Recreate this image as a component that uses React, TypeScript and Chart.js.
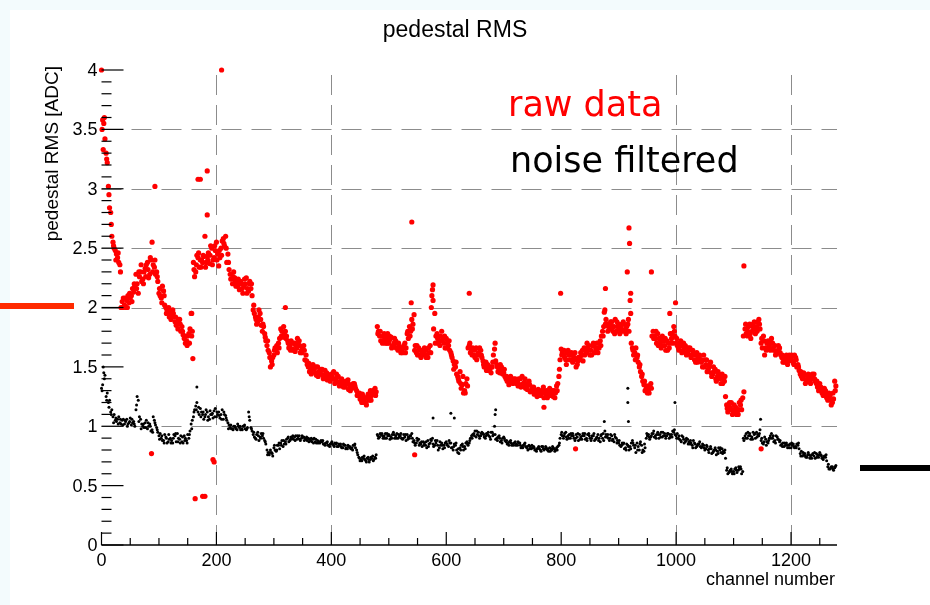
import React, { useEffect, useRef } from "react";
import { Chart, registerables } from "chart.js";

Chart.register(...registerables);

// ---------- data ----------
// Three interleaved samplings of the channel axis:
// set A at channels 0,4,8,..., set B at 2,6,10,..., set C at 1,5,9,...
const CHANNEL_STEP = 4;
const OFFSET_A = 0;
const OFFSET_B = 2;
const OFFSET_C = 1;

const rawRmsA = [
  4.0, 3.55, 3.3, 3.02, 2.8, 2.55, 2.48, 2.42, 2.36, 2.05,
  2.02, 2.06, 2.04, 2.1, 2.13, 2.28, 2.12, 2.3, 2.24, 2.33,
  2.38, 2.28, 2.55, 2.34, 2.3, 2.12, 2.08, 2.14, 2.0, 1.96,
  1.94, 1.98, 1.88, 1.86, 1.9, 1.84, 1.74, 1.72, 1.78, 1.95,
  2.38, 2.3, 2.42, 2.4, 2.38, 2.6, 2.43, 2.37, 2.5, 2.42,
  2.55, 2.35, 2.5, 2.58, 2.6, 2.45, 2.28, 2.2, 2.25, 2.22,
  2.15, 2.2, 2.18, 2.25, 2.14, 2.16, 1.98, 1.92, 1.88, 1.95,
  1.8, 1.78, 1.68, 1.62, 1.55, 1.6, 1.65, 1.7, 1.82, 1.75,
  1.8, 1.72, 1.68, 1.65, 1.7, 1.66, 1.72, 1.64, 1.68, 1.6,
  1.5, 1.47, 1.52, 1.45, 1.5, 1.44, 1.48, 1.42, 1.45, 1.4,
  1.44, 1.46, 1.38, 1.42, 1.36, 1.38, 1.33, 1.37, 1.35, 1.32,
  1.36, 1.3, 1.26, 1.22, 1.25, 1.2, 1.27, 1.3, 1.28, 1.32,
  1.84, 1.76, 1.72, 1.78, 1.74, 1.7, 1.75, 1.68, 1.72, 1.64,
  1.66, 1.62, 1.7, 1.78, 1.84, 1.9, 1.94, 1.62, 1.66, 1.58,
  1.6, 1.64, 1.58, 1.68, 2.15, 1.95, 1.78, 1.72, 1.8, 1.7,
  1.74, 1.68, 1.62, 1.55, 1.5, 1.42, 1.46, 1.35, 1.3, 1.4,
  1.68, 1.64, 1.6, 1.66, 1.62, 1.64, 1.55, 1.5, 1.52, 1.48,
  1.5, 1.65, 1.52, 1.48, 1.5, 1.45, 1.4, 1.38, 1.42, 1.36,
  1.4, 1.38, 1.35, 1.42, 1.37, 1.34, 1.38, 1.3, 1.33, 1.28,
  1.31, 1.26, 1.3, 1.28, 1.24, 1.32, 1.27, 1.3, 1.34, 1.42,
  1.65, 1.6, 1.56, 1.64, 1.6, 1.54, 1.62, 1.52, 1.56, 1.6,
  1.66, 1.62, 1.68, 1.64, 1.7, 1.66, 1.62, 1.72, 1.8, 1.98,
  1.86, 1.82, 1.88, 1.84, 1.8, 1.86, 1.83, 1.88, 1.82, 1.86,
  2.06, 1.66, 1.62, 1.58, 1.5, 1.42, 1.35, 1.32, 1.3, 1.36,
  1.8, 1.74, 1.78, 1.7, 1.76, 1.68, 1.72, 1.66, 1.74, 1.84,
  1.7, 1.66, 1.72, 1.64, 1.68, 1.62, 1.66, 1.6, 1.56, 1.62,
  1.58, 1.54, 1.6, 1.52, 1.48, 1.54, 1.44, 1.48, 1.42, 1.4,
  1.44, 1.38, 1.18, 1.14, 1.2, 1.12, 1.16, 1.1, 1.18, 1.24,
  1.82, 1.76, 1.86, 1.8, 1.88, 1.84, 1.9, 1.7, 1.76, 1.66,
  1.72, 1.64, 1.7, 1.68, 1.62, 1.66, 1.58, 1.56, 1.6, 1.55,
  1.57, 1.54, 1.58, 1.52, 1.44, 1.4, 1.43, 1.38, 1.42, 1.4,
  1.44, 1.36, 1.3, 1.33, 1.26, 1.3, 1.22, 1.26, 1.2, 1.38,
];

const rawRmsB = [
  3.58, 3.42, 3.22, 2.84, 2.6, 2.5, 2.45, 2.38, 2.0, 2.08,
  2.0, 2.1, 2.08, 2.16, 2.18, 2.2, 2.26, 2.22, 2.3, 2.36,
  2.25, 2.4, 2.36, 2.28, 2.22, 2.1, 2.18, 2.02, 1.98, 1.92,
  1.97, 1.92, 1.85, 1.9, 1.8, 1.77, 1.7, 1.76, 1.82, 1.8,
  2.26, 2.44, 2.34, 2.4, 2.43, 2.38, 2.46, 2.52, 2.4, 2.48,
  2.45, 2.42, 2.56, 2.52, 2.38, 2.32, 2.24, 2.3, 2.18, 2.24,
  2.22, 2.12, 2.2, 2.16, 2.22, 2.1, 1.95, 1.86, 1.98, 1.85,
  1.84, 1.72, 1.64, 1.5, 1.58, 1.66, 1.62, 1.74, 1.8, 1.78,
  1.76, 1.66, 1.72, 1.64, 1.68, 1.7, 1.62, 1.66, 1.56, 1.52,
  1.46, 1.5, 1.48, 1.43, 1.46, 1.48, 1.4, 1.44, 1.42, 1.38,
  1.4, 1.36, 1.41, 1.34, 1.4, 1.35, 1.38, 1.31, 1.34, 1.36,
  1.32, 1.28, 1.23, 1.27, 1.2, 1.24, 1.22, 1.26, 1.3, 1.29,
  1.8, 1.72, 1.76, 1.7, 1.78, 1.73, 1.67, 1.74, 1.7, 1.67,
  1.64, 1.68, 1.66, 1.74, 1.8, 1.86, 1.68, 1.6, 1.64, 1.62,
  1.66, 1.6, 1.62, 2.0, 1.82, 1.76, 1.7, 1.76, 1.74, 1.66,
  1.7, 1.64, 1.58, 1.52, 1.44, 1.38, 1.32, 1.28, 1.36, 1.66,
  1.62, 1.66, 1.58, 1.6, 1.66, 1.58, 1.5, 1.47, 1.5, 1.45,
  1.6, 1.55, 1.46, 1.52, 1.44, 1.42, 1.38, 1.4, 1.37, 1.39,
  1.36, 1.4, 1.33, 1.36, 1.32, 1.36, 1.29, 1.32, 1.3, 1.25,
  1.28, 1.3, 1.24, 1.3, 1.26, 1.29, 1.25, 1.28, 1.36, 1.56,
  1.62, 1.58, 1.62, 1.56, 1.62, 1.58, 1.5, 1.58, 1.62, 1.55,
  1.64, 1.66, 1.6, 1.68, 1.62, 1.7, 1.66, 1.76, 1.84, 1.9,
  1.84, 1.88, 1.8, 1.9, 1.84, 1.78, 1.86, 1.8, 1.84, 1.8,
  1.7, 1.6, 1.66, 1.54, 1.46, 1.38, 1.3, 1.28, 1.34, 1.76,
  1.76, 1.7, 1.74, 1.66, 1.72, 1.64, 1.7, 1.78, 1.7, 1.76,
  1.68, 1.7, 1.62, 1.66, 1.6, 1.64, 1.58, 1.62, 1.54, 1.58,
  1.56, 1.5, 1.56, 1.46, 1.52, 1.42, 1.46, 1.38, 1.44, 1.36,
  1.4, 1.25, 1.12, 1.16, 1.1, 1.14, 1.12, 1.2, 1.14, 1.29,
  1.78, 1.84, 1.74, 1.86, 1.78, 1.88, 1.82, 1.66, 1.6, 1.7,
  1.68, 1.74, 1.64, 1.62, 1.68, 1.6, 1.54, 1.58, 1.52, 1.58,
  1.55, 1.6, 1.5, 1.47, 1.42, 1.45, 1.39, 1.44, 1.36, 1.42,
  1.38, 1.33, 1.36, 1.28, 1.32, 1.24, 1.28, 1.18, 1.23, 1.34,
];

const rawRmsC = [
  3.5, 3.6, 3.25, 2.95, 2.7, 2.52, 2.4, 2.46, 2.3, 2.0,
  2.08, 2.0, 2.12, 2.05, 2.2, 2.16, 2.3, 2.36, 2.2, 2.26,
  2.32, 2.42, 2.3, 2.4, 2.26, 2.16, 2.04, 2.1, 1.95, 2.0,
  1.9, 1.95, 1.92, 1.82, 1.86, 1.8, 1.76, 1.68, 1.7, 1.76,
  2.32, 2.36, 2.46, 2.34, 2.44, 2.34, 2.4, 2.44, 2.36, 2.52,
  2.4, 2.48, 2.44, 2.54, 2.5, 2.38, 2.24, 2.26, 2.22, 2.18,
  2.2, 2.16, 2.24, 2.12, 2.2, 2.2, 2.02, 1.9, 1.92, 1.9,
  1.86, 1.75, 1.72, 1.58, 1.52, 1.64, 1.68, 1.66, 1.76, 1.84,
  1.74, 1.7, 1.64, 1.7, 1.63, 1.74, 1.68, 1.62, 1.64, 1.55,
  1.53, 1.44, 1.49, 1.5, 1.42, 1.46, 1.43, 1.47, 1.39, 1.43,
  1.42, 1.4, 1.44, 1.37, 1.38, 1.33, 1.35, 1.39, 1.3, 1.34,
  1.34, 1.26, 1.28, 1.2, 1.23, 1.18, 1.25, 1.22, 1.3, 1.26,
  1.78, 1.8, 1.7, 1.74, 1.7, 1.76, 1.66, 1.7, 1.66, 1.7,
  1.62, 1.66, 1.62, 1.8, 1.76, 1.82, 1.64, 1.68, 1.6, 1.64,
  1.62, 1.58, 1.66, 1.62, 2.06, 1.7, 1.74, 1.68, 1.72, 1.76,
  1.66, 1.72, 1.6, 1.48, 1.54, 1.4, 1.36, 1.42, 1.28, 1.34,
  1.7, 1.6, 1.64, 1.56, 1.6, 1.6, 1.52, 1.54, 1.47, 1.5,
  1.54, 1.7, 1.5, 1.45, 1.46, 1.48, 1.42, 1.35, 1.39, 1.4,
  1.38, 1.34, 1.4, 1.34, 1.4, 1.31, 1.35, 1.33, 1.27, 1.3,
  1.26, 1.28, 1.33, 1.25, 1.29, 1.26, 1.3, 1.24, 1.3, 1.48,
  1.6, 1.64, 1.52, 1.6, 1.56, 1.6, 1.56, 1.55, 1.58, 1.64,
  1.6, 1.7, 1.64, 1.6, 1.68, 1.64, 1.7, 1.68, 1.76, 1.86,
  1.8, 1.86, 1.84, 1.78, 1.88, 1.82, 1.8, 1.86, 1.78, 1.9,
  1.95, 1.64, 1.56, 1.6, 1.52, 1.44, 1.38, 1.34, 1.28, 1.32,
  1.74, 1.8, 1.68, 1.74, 1.68, 1.74, 1.64, 1.7, 1.78, 1.8,
  1.74, 1.64, 1.68, 1.7, 1.62, 1.66, 1.6, 1.64, 1.6, 1.54,
  1.6, 1.56, 1.5, 1.56, 1.5, 1.45, 1.5, 1.4, 1.46, 1.42,
  1.36, 1.42, 1.15, 1.2, 1.14, 1.18, 1.1, 1.14, 1.22, 1.76,
  1.86, 1.8, 1.78, 1.84, 1.82, 1.8, 1.86, 1.74, 1.72, 1.64,
  1.66, 1.7, 1.66, 1.6, 1.64, 1.62, 1.6, 1.54, 1.56, 1.6,
  1.6, 1.52, 1.56, 1.5, 1.46, 1.42, 1.36, 1.4, 1.38, 1.44,
  1.4, 1.38, 1.32, 1.3, 1.28, 1.27, 1.24, 1.22, 1.28, 1.3,
];

const filteredRmsA = [
  1.32, 1.45, 1.25, 1.2, 1.12, 1.08, 1.05, 1.06, 1.03, 1.05,
  1.02, 1.06, 1.03, 1.01, 1.04, 1.14, 1.22, 1.06, 1.0, 1.03,
  0.98, 1.02, 0.97, 1.05, 0.99, 0.92, 0.9, 0.88, 0.91, 0.87,
  0.9, 0.86, 0.92, 0.94, 0.89, 0.87, 0.92, 0.88, 0.9, 1.02,
  1.08, 1.17, 1.12, 1.15, 1.1, 1.08, 1.12, 1.06, 1.1, 1.13,
  1.08, 1.12, 1.1, 1.06, 1.09, 1.03, 0.99, 0.98, 1.0, 0.97,
  0.99, 0.98, 1.0, 0.97, 1.12, 0.99, 0.93, 0.9, 0.95, 0.91,
  0.92, 0.88, 0.8, 0.76, 0.78, 0.82, 0.79, 0.84, 0.86, 0.83,
  0.87, 0.9, 0.88, 0.9, 0.91, 0.89, 0.92, 0.9, 0.91, 0.89,
  0.9, 0.88, 0.89, 0.87, 0.88, 0.86, 0.87, 0.85, 0.86, 0.84,
  0.86, 0.84, 0.85, 0.83, 0.85, 0.82, 0.84, 0.81, 0.83, 0.82,
  0.84, 0.8, 0.74, 0.72, 0.73, 0.71, 0.74, 0.72, 0.75, 0.74,
  0.93, 0.91, 0.94, 0.92, 0.9, 0.93, 0.91, 0.95, 0.92, 0.9,
  0.92, 0.89, 0.91, 0.93, 0.9, 0.94, 0.88, 0.86, 0.89, 0.85,
  0.87, 0.84, 0.88, 0.86, 0.9, 0.84, 0.88, 0.82, 0.86, 0.84,
  0.87, 0.83, 0.86, 0.8, 0.84, 0.78, 0.82, 0.85, 0.83, 0.87,
  0.86, 0.92, 0.94, 0.91, 0.95, 0.92, 0.94, 0.9, 0.93, 0.91,
  0.95, 1.0, 0.9, 0.92, 0.88, 0.91, 0.87, 0.86, 0.88, 0.85,
  0.87, 0.84, 0.86, 0.83, 0.85, 0.82, 0.84, 0.81, 0.83, 0.8,
  0.82, 0.8, 0.83, 0.81, 0.8, 0.82, 0.8, 0.81, 0.82, 0.84,
  0.93, 0.9, 0.95, 0.92, 0.9, 0.94, 0.88, 0.91, 0.93, 0.89,
  0.92, 0.9, 0.94, 0.88, 0.92, 0.89, 0.93, 0.87, 0.9, 0.96,
  0.91, 0.88, 0.92, 0.87, 0.9, 0.86, 0.83, 0.85, 0.82, 0.84,
  0.83, 0.88, 0.82, 0.86, 0.8, 0.84, 0.79, 0.9, 0.93, 0.91,
  0.94, 0.92, 0.95, 0.93, 0.91, 0.94, 0.92, 0.9, 0.93, 0.95,
  0.92, 0.9, 0.88, 0.91, 0.87, 0.89, 0.85, 0.84, 0.86, 0.83,
  0.85, 0.82, 0.84, 0.81, 0.8, 0.83, 0.78, 0.82, 0.79, 0.8,
  0.81, 0.78, 0.63, 0.61, 0.64, 0.62, 0.65, 0.63, 0.66, 0.62,
  0.92, 0.9, 0.94, 0.91, 0.93, 0.95, 0.92, 0.88, 0.85, 0.89,
  0.86, 0.92, 0.9, 0.88, 0.91, 0.87, 0.85, 0.83, 0.86, 0.84,
  0.82, 0.85, 0.83, 0.84, 0.77, 0.75, 0.77, 0.74, 0.76, 0.73,
  0.75, 0.77, 0.74, 0.76, 0.72, 0.74, 0.66, 0.64, 0.66, 0.65,
];

const filteredRmsB = [
  1.35, 1.43, 1.28, 1.22, 1.14, 1.1, 1.04, 1.08, 1.02, 1.06,
  1.04, 1.02, 1.07, 1.03, 1.0, 1.25, 1.08, 1.02, 0.99, 1.05,
  1.0, 0.96, 1.08, 1.01, 0.95, 0.94, 0.88, 0.93, 0.86, 0.89,
  0.88, 0.93, 0.87, 0.9, 0.92, 0.86, 0.9, 0.93, 0.96, 1.05,
  1.14, 1.2, 1.1, 1.12, 1.06, 1.14, 1.08, 1.1, 1.07, 1.15,
  1.1, 1.07, 1.14, 1.1, 1.05, 1.01, 0.98, 1.0, 0.98, 1.0,
  0.97, 1.0, 0.98, 0.99, 1.05, 0.96, 0.91, 0.93, 0.88, 0.94,
  0.9, 0.85, 0.78, 0.8, 0.75, 0.8, 0.84, 0.81, 0.88, 0.85,
  0.89, 0.87, 0.91, 0.89, 0.92, 0.9, 0.88, 0.91, 0.9, 0.88,
  0.89, 0.87, 0.9, 0.86, 0.87, 0.88, 0.85, 0.86, 0.84, 0.85,
  0.85, 0.86, 0.83, 0.84, 0.82, 0.84, 0.82, 0.83, 0.81, 0.84,
  0.82, 0.76, 0.71, 0.74, 0.72, 0.73, 0.7, 0.73, 0.72, 0.76,
  0.9, 0.93, 0.9, 0.94, 0.92, 0.89, 0.93, 0.9, 0.94, 0.91,
  0.9, 0.93, 0.88, 0.91, 0.92, 0.87, 0.84, 0.88, 0.86, 0.83,
  0.86, 0.82, 0.85, 0.88, 0.83, 0.86, 0.8, 0.84, 0.81, 0.86,
  0.84, 0.86, 0.82, 0.85, 0.8, 0.77, 0.84, 0.8, 0.86, 0.84,
  0.9, 0.93, 0.96, 0.93, 0.9, 0.95, 0.91, 0.94, 0.92, 0.95,
  0.93, 0.89, 0.91, 0.87, 0.9, 0.88, 0.85, 0.87, 0.84, 0.86,
  0.85, 0.86, 0.82, 0.84, 0.83, 0.8, 0.83, 0.82, 0.8, 0.81,
  0.81, 0.83, 0.8, 0.82, 0.79, 0.81, 0.82, 0.8, 0.83, 0.9,
  0.92, 0.94, 0.89, 0.93, 0.92, 0.9, 0.93, 0.88, 0.91, 0.94,
  0.89, 0.93, 0.9, 0.92, 0.88, 0.91, 0.9, 0.93, 0.88, 0.93,
  0.9, 0.93, 0.89, 0.91, 0.88, 0.84, 0.86, 0.81, 0.85, 0.8,
  0.86, 0.84, 0.78, 0.83, 0.87, 0.8, 0.82, 0.92, 0.89, 0.94,
  0.91, 0.93, 0.9, 0.95, 0.92, 0.9, 0.94, 0.91, 0.96, 0.93,
  0.94, 0.89, 0.92, 0.86, 0.9, 0.87, 0.86, 0.88, 0.82, 0.85,
  0.83, 0.85, 0.8, 0.83, 0.81, 0.77, 0.8, 0.76, 0.82, 0.78,
  0.79, 0.73, 0.6, 0.63, 0.6, 0.64, 0.61, 0.64, 0.6, 0.88,
  0.94, 0.92, 0.89, 0.95, 0.9, 0.93, 0.97, 0.86, 0.91, 0.87,
  0.9, 0.94, 0.87, 0.92, 0.89, 0.84, 0.86, 0.84, 0.82, 0.85,
  0.84, 0.82, 0.85, 0.81, 0.79, 0.76, 0.74, 0.78, 0.75, 0.77,
  0.73, 0.76, 0.78, 0.73, 0.75, 0.71, 0.64, 0.66, 0.63, 0.67,
];

const filteredRmsC = [
  1.3, 1.4, 1.22, 1.16, 1.1, 1.03, 1.07, 1.02, 1.06, 1.01,
  1.05, 1.0, 1.04, 1.06, 1.02, 1.18, 1.04, 0.98, 1.02, 0.99,
  1.03, 1.0, 0.95, 1.03, 0.97, 0.89, 0.92, 0.86, 0.9, 0.93,
  0.86, 0.9, 0.94, 0.87, 0.86, 0.91, 0.88, 0.86, 0.93, 0.98,
  1.12, 1.14, 1.16, 1.08, 1.12, 1.1, 1.05, 1.13, 1.11, 1.08,
  1.12, 1.09, 1.06, 1.12, 1.07, 0.98, 1.01, 0.97, 0.99, 1.02,
  1.0, 0.97, 1.01, 0.98, 1.08, 0.98, 0.95, 0.89, 0.92, 0.9,
  0.94, 0.87, 0.76, 0.78, 0.77, 0.84, 0.8, 0.86, 0.84, 0.88,
  0.85, 0.91, 0.89, 0.92, 0.88, 0.92, 0.89, 0.92, 0.88, 0.91,
  0.87, 0.9, 0.86, 0.89, 0.86, 0.87, 0.88, 0.84, 0.87, 0.83,
  0.87, 0.83, 0.86, 0.85, 0.83, 0.85, 0.81, 0.84, 0.82, 0.8,
  0.85, 0.78, 0.73, 0.71, 0.75, 0.7, 0.72, 0.74, 0.71, 0.73,
  0.92, 0.94, 0.92, 0.9, 0.94, 0.92, 0.9, 0.93, 0.9, 0.93,
  0.94, 0.9, 0.93, 0.89, 0.92, 0.9, 0.86, 0.9, 0.84, 0.87,
  0.84, 0.87, 0.83, 0.89, 0.85, 0.88, 0.84, 0.87, 0.84, 0.82,
  0.85, 0.88, 0.82, 0.83, 0.86, 0.81, 0.8, 0.83, 0.81, 0.85,
  0.88, 0.9, 0.92, 0.96, 0.92, 0.94, 0.93, 0.92, 0.95, 0.89,
  0.92, 0.93, 0.88, 0.9, 0.86, 0.9, 0.88, 0.84, 0.86, 0.84,
  0.84, 0.87, 0.84, 0.82, 0.86, 0.83, 0.81, 0.84, 0.82, 0.79,
  0.83, 0.79, 0.81, 0.83, 0.81, 0.79, 0.83, 0.79, 0.8, 0.86,
  0.95, 0.92, 0.91, 0.9, 0.94, 0.92, 0.9, 0.94, 0.89, 0.92,
  0.94, 0.88, 0.92, 0.9, 0.94, 0.9, 0.88, 0.92, 0.94, 0.91,
  0.93, 0.9, 0.88, 0.93, 0.86, 0.88, 0.84, 0.86, 0.8, 0.83,
  0.81, 0.86, 0.84, 0.8, 0.85, 0.78, 0.85, 0.94, 0.91, 0.92,
  0.96, 0.9, 0.93, 0.91, 0.95, 0.92, 0.94, 0.93, 0.91, 0.97,
  0.9, 0.92, 0.87, 0.89, 0.88, 0.85, 0.88, 0.82, 0.85, 0.84,
  0.87, 0.83, 0.82, 0.84, 0.78, 0.81, 0.79, 0.8, 0.77, 0.82,
  0.77, 0.8, 0.65, 0.62, 0.62, 0.6, 0.63, 0.66, 0.64, 0.9,
  0.9, 0.95, 0.92, 0.89, 0.94, 0.91, 0.94, 0.9, 0.87, 0.84,
  0.88, 0.9, 0.92, 0.86, 0.89, 0.88, 0.83, 0.86, 0.84, 0.82,
  0.86, 0.83, 0.82, 0.86, 0.75, 0.78, 0.75, 0.76, 0.73, 0.76,
  0.78, 0.74, 0.76, 0.75, 0.74, 0.76, 0.68, 0.65, 0.64, 0.66,
];

// isolated channels that sit off the main bands
const rawExtraCh = [
  3, 87, 93, 157, 159, 163, 168, 172, 176, 180,
  184, 184, 194, 196, 209, 320, 539, 540, 545, 575, 577, 640, 770, 799, 825,
  875, 877, 915, 918, 919, 921, 957, 989, 999, 1118, 1148,
];
const rawExtraVal = [
  3.33, 0.77, 3.02, 1.95, 1.57, 0.39, 3.08, 3.08, 0.41, 0.41,
  3.15, 2.78, 0.72, 0.7, 4.0, 2.0, 2.04, 2.72, 0.76, 2.1, 2.19, 2.12, 1.16, 2.12, 0.81,
  1.96, 2.16, 2.3, 2.67, 2.54, 2.12, 2.3, 1.95, 2.04, 2.35, 0.81,
];
const filteredExtraCh = [3, 166, 577, 608, 614, 685, 686, 875, 916, 916, 917, 998, 1147];
const filteredExtraVal = [1.5, 1.33, 1.07, 1.11, 1.07, 1.1, 1.14, 1.04, 1.32, 1.2, 1.04, 1.2, 1.06];

const xMajorTicks = [0, 200, 400, 600, 800, 1000, 1200];
const xMinorStep = 50;
const yMajorTicks = [0, 0.5, 1, 1.5, 2, 2.5, 3, 3.5, 4];
const yMinorStep = 0.1;
const xGridShown = [200, 400, 1000, 1200];
const yGridShown = [1, 2, 2.5, 3, 3.5];

const TITLE = "pedestal RMS";
const X_TITLE = "channel number";
const Y_TITLE = "pedestal RMS [ADC]";
const LEGEND_RAW = "raw data";
const LEGEND_FILTERED = "noise filtered";

const ROOT_FONT = '"Liberation Sans", Arial, Helvetica, sans-serif';
const SLIDE_FONT = '"DejaVu Sans", sans-serif';

const decorPlugin = {
  id: "decor",
  beforeDraw(chart: any) {
    const { ctx, width, height } = chart;
    ctx.save();
    ctx.fillStyle = "#f3fbfd";
    ctx.fillRect(0, 0, width, height);
    ctx.fillStyle = "#ffffff";
    ctx.fillRect(10, 10, width - 10, height - 10);
    ctx.restore();
  },
  beforeDatasetsDraw(chart: any) {
    const { ctx, chartArea } = chart;
    const xs = chart.scales.x;
    const ys = chart.scales.y;
    ctx.save();
    ctx.strokeStyle = "#8c8c8c";
    ctx.lineWidth = 1;
    ctx.setLineDash([20, 10]);
    for (const v of yGridShown) {
      const py = Math.round(ys.getPixelForValue(v)) + 0.5;
      ctx.beginPath();
      ctx.moveTo(chartArea.left, py);
      ctx.lineTo(chartArea.right, py);
      ctx.stroke();
    }
    for (const v of xGridShown) {
      const px = Math.round(xs.getPixelForValue(v)) + 0.5;
      ctx.beginPath();
      ctx.moveTo(px, chartArea.bottom);
      ctx.lineTo(px, chartArea.top);
      ctx.stroke();
    }
    ctx.restore();
  },
  afterDatasetsDraw(chart: any) {
    const { ctx, chartArea } = chart;
    const xs = chart.scales.x;
    const ys = chart.scales.y;
    ctx.save();
    // x axis line
    ctx.strokeStyle = "#000000";
    ctx.lineWidth = 1.5;
    ctx.beginPath();
    ctx.moveTo(chartArea.left, chartArea.bottom);
    ctx.lineTo(chartArea.right, chartArea.bottom);
    ctx.stroke();
    // x ticks (inside)
    ctx.lineWidth = 1.2;
    for (let v = 0; v <= 1280; v += xMinorStep) {
      const px = xs.getPixelForValue(v);
      const major = xMajorTicks.includes(v);
      ctx.beginPath();
      ctx.moveTo(px, chartArea.bottom);
      ctx.lineTo(px, chartArea.bottom - (major ? 13 : 7));
      ctx.stroke();
    }
    // y ticks (inside)
    for (let i = 0; i <= 40; i++) {
      const v = i * yMinorStep;
      const py = ys.getPixelForValue(v);
      const major = i % 5 === 0;
      ctx.beginPath();
      ctx.moveTo(chartArea.left, py);
      ctx.lineTo(chartArea.left + (major ? 22 : 10), py);
      ctx.stroke();
    }
    // tick labels
    ctx.fillStyle = "#000000";
    ctx.font = `18px ${ROOT_FONT}`;
    ctx.textAlign = "center";
    ctx.textBaseline = "alphabetic";
    for (const v of xMajorTicks) {
      ctx.fillText(String(v), xs.getPixelForValue(v), chartArea.bottom + 21);
    }
    ctx.textAlign = "right";
    ctx.textBaseline = "middle";
    for (const v of yMajorTicks) {
      ctx.fillText(String(v), chartArea.left - 4, ys.getPixelForValue(v) + 1);
    }
    // axis titles
    ctx.font = `18px ${ROOT_FONT}`;
    ctx.textAlign = "right";
    ctx.textBaseline = "alphabetic";
    ctx.fillText(X_TITLE, chartArea.right - 2, 585);
    ctx.save();
    ctx.translate(58, 66);
    ctx.rotate(-Math.PI / 2);
    ctx.font = `19px ${ROOT_FONT}`;
    ctx.textAlign = "right";
    ctx.textBaseline = "alphabetic";
    ctx.fillText(Y_TITLE, 0, 0);
    ctx.restore();
    // title
    ctx.font = `23px ${ROOT_FONT}`;
    ctx.textAlign = "center";
    ctx.fillText(TITLE, 455, 37);
    // legend-like annotations
    ctx.font = `35px ${SLIDE_FONT}`;
    ctx.textAlign = "left";
    ctx.fillStyle = "#ff0000";
    ctx.fillText(LEGEND_RAW, 508, 116);
    ctx.fillStyle = "#000000";
    ctx.fillText(LEGEND_FILTERED, 510, 172);
    // side marker bars
    ctx.fillStyle = "#ff2a00";
    ctx.fillRect(0, 303, 74, 6);
    ctx.fillStyle = "#000000";
    ctx.fillRect(860, 465, 70, 6);
    ctx.restore();
  },
};

function toPoints(values: number[], offset: number) {
  return values.map((v, i) => ({ x: offset + i * CHANNEL_STEP, y: v }));
}

export default function App() {
  const canvasRef = useRef<HTMLCanvasElement | null>(null);

  useEffect(() => {
    const canvas = canvasRef.current;
    if (!canvas) return;
    const rawPoints = toPoints(rawRmsA, OFFSET_A)
      .concat(toPoints(rawRmsB, OFFSET_B))
      .concat(toPoints(rawRmsC, OFFSET_C))
      .concat(rawExtraCh.map((c, i) => ({ x: c, y: rawExtraVal[i] })));
    const filtPoints = toPoints(filteredRmsA, OFFSET_A)
      .concat(toPoints(filteredRmsB, OFFSET_B))
      .concat(toPoints(filteredRmsC, OFFSET_C))
      .concat(filteredExtraCh.map((c, i) => ({ x: c, y: filteredExtraVal[i] })));

    const chart = new Chart(canvas, {
      type: "scatter",
      data: {
        datasets: [
          {
            label: LEGEND_RAW,
            data: rawPoints,
            backgroundColor: "#ff0000",
            borderWidth: 0,
            pointRadius: 2.6,
            clip: false,
          },
          {
            label: LEGEND_FILTERED,
            data: filtPoints,
            backgroundColor: "#000000",
            borderWidth: 0,
            pointRadius: 1.5,
            clip: false,
          },
        ],
      },
      plugins: [decorPlugin],
      options: {
        responsive: false,
        animation: false,
        events: [],
        layout: { padding: { left: 101.5, top: 70, right: 93, bottom: 60 } },
        plugins: { legend: { display: false }, tooltip: { enabled: false } },
        scales: {
          x: {
            type: "linear",
            min: 0,
            max: 1280,
            ticks: { display: false },
            grid: { display: false, drawTicks: false },
            border: { display: false },
            afterFit: (s: any) => {
              s.height = 0;
            },
          },
          y: {
            type: "linear",
            min: 0,
            max: 4,
            ticks: { display: false },
            grid: { display: false, drawTicks: false },
            border: { display: false },
            afterFit: (s: any) => {
              s.width = 0;
            },
          },
        },
      },
    });
    return () => chart.destroy();
  }, []);

  return (
    <div style={{ position: "absolute", left: 0, top: 0, width: 930, height: 605 }}>
      <canvas ref={canvasRef} width={930} height={605} style={{ display: "block", width: 930, height: 605 }} />
    </div>
  );
}
